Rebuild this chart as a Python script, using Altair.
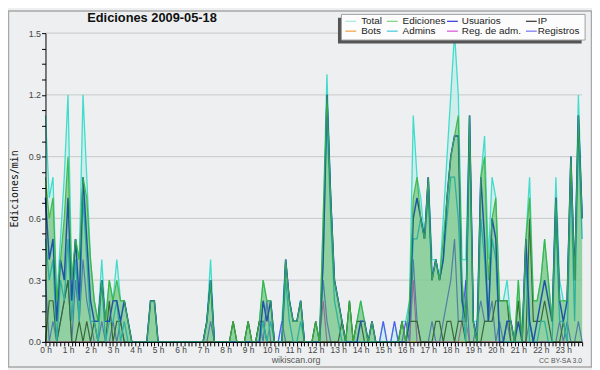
import altair as alt
import pandas as pd

# ---------------- data (edits per minute, 10-minute buckets, 0h..23h50) ----------------
hour_labels = [f"{h} h" for h in range(24)]

total = [
    1.1, 0.7, 0.8, 0.2, 0.5, 0.8, 1.2, 0.3, 0.5, 0.4, 1.2, 0.8,
    0.4, 0.2, 0.1, 0.4, 0.1, 0.3, 0.2, 0.4, 0.2, 0.2, 0.1, 0.0,
    0.0, 0.0, 0.0, 0.0, 0.2, 0.2, 0.0, 0.0, 0.0, 0.0, 0.0, 0.0,
    0.0, 0.0, 0.0, 0.0, 0.0, 0.0, 0.0, 0.1, 0.4, 0.0, 0.0, 0.0,
    0.0, 0.0, 0.1, 0.0, 0.0, 0.0, 0.1, 0.0, 0.0, 0.1, 0.3, 0.2,
    0.2, 0.0, 0.0, 0.1, 0.4, 0.2, 0.1, 0.1, 0.2, 0.0, 0.0, 0.0,
    0.1, 0.0, 0.6, 1.3, 0.7, 0.3, 0.2, 0.1, 0.0, 0.2, 0.0, 0.1,
    0.2, 0.1, 0.0, 0.1, 0.0, 0.0, 0.1, 0.0, 0.0, 0.1, 0.0, 0.1,
    0.1, 0.2, 1.1, 0.8, 0.7, 0.5, 0.8, 0.4, 0.4, 0.3, 0.6, 0.9,
    1.2, 1.5, 1.2, 0.4, 0.4, 1.1, 0.1, 0.1, 0.8, 1.0, 0.4, 0.8,
    0.7, 0.2, 0.2, 0.3, 0.1, 0.0, 0.3, 0.0, 0.5, 0.8, 0.2, 0.2,
    0.3, 0.5, 0.3, 0.1, 0.8, 0.3, 0.2, 0.2, 0.9, 0.3, 1.2, 0.6,
]
edits = [
    0.8, 0.6, 0.7, 0.2, 0.4, 0.6, 0.9, 0.3, 0.5, 0.4, 0.8, 0.7,
    0.4, 0.2, 0.1, 0.3, 0.1, 0.3, 0.2, 0.3, 0.2, 0.2, 0.1, 0.0,
    0.0, 0.0, 0.0, 0.0, 0.2, 0.2, 0.0, 0.0, 0.0, 0.0, 0.0, 0.0,
    0.0, 0.0, 0.0, 0.0, 0.0, 0.0, 0.0, 0.1, 0.3, 0.0, 0.0, 0.0,
    0.0, 0.0, 0.1, 0.0, 0.0, 0.0, 0.1, 0.0, 0.0, 0.1, 0.3, 0.2,
    0.2, 0.0, 0.0, 0.0, 0.4, 0.2, 0.1, 0.1, 0.2, 0.0, 0.0, 0.0,
    0.1, 0.0, 0.6, 1.2, 0.7, 0.3, 0.2, 0.1, 0.0, 0.2, 0.0, 0.1,
    0.2, 0.1, 0.0, 0.1, 0.0, 0.0, 0.0, 0.0, 0.0, 0.0, 0.0, 0.1,
    0.0, 0.2, 0.7, 0.8, 0.6, 0.5, 0.8, 0.3, 0.4, 0.3, 0.5, 0.7,
    0.9, 1.0, 1.1, 0.3, 0.1, 1.1, 0.1, 0.0, 0.8, 0.9, 0.3, 0.6,
    0.7, 0.2, 0.2, 0.2, 0.1, 0.0, 0.3, 0.0, 0.5, 0.7, 0.2, 0.2,
    0.3, 0.5, 0.3, 0.1, 0.7, 0.2, 0.2, 0.2, 0.9, 0.3, 1.1, 0.6,
]
users = [
    0.7, 0.4, 0.5, 0.1, 0.4, 0.3, 0.7, 0.2, 0.5, 0.2, 0.8, 0.5,
    0.2, 0.1, 0.1, 0.3, 0.1, 0.1, 0.2, 0.2, 0.1, 0.2, 0.1, 0.0,
    0.0, 0.0, 0.0, 0.0, 0.2, 0.2, 0.0, 0.0, 0.0, 0.0, 0.0, 0.0,
    0.0, 0.0, 0.0, 0.0, 0.0, 0.0, 0.0, 0.1, 0.3, 0.0, 0.0, 0.0,
    0.0, 0.0, 0.0, 0.0, 0.0, 0.0, 0.0, 0.0, 0.0, 0.0, 0.2, 0.1,
    0.2, 0.0, 0.0, 0.0, 0.4, 0.2, 0.1, 0.1, 0.2, 0.0, 0.0, 0.0,
    0.0, 0.0, 0.4, 1.2, 0.7, 0.3, 0.2, 0.1, 0.0, 0.0, 0.0, 0.0,
    0.1, 0.1, 0.0, 0.1, 0.0, 0.0, 0.0, 0.0, 0.0, 0.0, 0.0, 0.0,
    0.0, 0.1, 0.6, 0.7, 0.6, 0.5, 0.8, 0.3, 0.4, 0.3, 0.4, 0.7,
    0.9, 1.0, 1.0, 0.2, 0.1, 1.1, 0.1, 0.0, 0.8, 0.5, 0.1, 0.6,
    0.5, 0.0, 0.0, 0.1, 0.1, 0.0, 0.1, 0.0, 0.5, 0.1, 0.0, 0.1,
    0.2, 0.3, 0.2, 0.1, 0.7, 0.2, 0.1, 0.2, 0.9, 0.3, 1.1, 0.6,
]
ip = [
    0.0, 0.2, 0.2, 0.0, 0.1, 0.2, 0.3, 0.0, 0.0, 0.1, 0.0, 0.1,
    0.0, 0.1, 0.0, 0.0, 0.0, 0.2, 0.0, 0.1, 0.1, 0.0, 0.0, 0.0,
    0.0, 0.0, 0.0, 0.0, 0.0, 0.0, 0.0, 0.0, 0.0, 0.0, 0.0, 0.0,
    0.0, 0.0, 0.0, 0.0, 0.0, 0.0, 0.0, 0.0, 0.0, 0.0, 0.0, 0.0,
    0.0, 0.0, 0.1, 0.0, 0.0, 0.0, 0.1, 0.0, 0.0, 0.1, 0.1, 0.0,
    0.0, 0.0, 0.0, 0.0, 0.0, 0.0, 0.0, 0.0, 0.0, 0.0, 0.0, 0.0,
    0.1, 0.0, 0.0, 0.0, 0.0, 0.0, 0.0, 0.1, 0.0, 0.2, 0.0, 0.1,
    0.1, 0.0, 0.0, 0.0, 0.0, 0.0, 0.0, 0.0, 0.0, 0.0, 0.0, 0.1,
    0.0, 0.1, 0.1, 0.1, 0.0, 0.0, 0.0, 0.0, 0.1, 0.1, 0.0, 0.1,
    0.1, 0.0, 0.1, 0.1, 0.0, 0.0, 0.0, 0.0, 0.0, 0.1, 0.1, 0.1,
    0.2, 0.2, 0.2, 0.2, 0.0, 0.0, 0.2, 0.0, 0.0, 0.6, 0.1, 0.1,
    0.1, 0.2, 0.1, 0.0, 0.0, 0.0, 0.1, 0.0, 0.0, 0.0, 0.0, 0.0,
]
bots = [0.0] * 144
admins = [
    0.5, 0.3, 0.4, 0.0, 0.3, 0.2, 0.5, 0.1, 0.4, 0.1, 0.7, 0.4,
    0.1, 0.1, 0.0, 0.3, 0.0, 0.1, 0.1, 0.2, 0.0, 0.1, 0.0, 0.0,
    0.0, 0.0, 0.0, 0.0, 0.0, 0.0, 0.0, 0.0, 0.0, 0.0, 0.0, 0.0,
    0.0, 0.0, 0.0, 0.0, 0.0, 0.0, 0.0, 0.1, 0.3, 0.0, 0.0, 0.0,
    0.0, 0.0, 0.0, 0.0, 0.0, 0.0, 0.0, 0.0, 0.0, 0.0, 0.1, 0.0,
    0.1, 0.0, 0.0, 0.0, 0.3, 0.1, 0.0, 0.0, 0.1, 0.0, 0.0, 0.0,
    0.0, 0.0, 0.4, 1.1, 0.6, 0.2, 0.1, 0.0, 0.0, 0.0, 0.0, 0.0,
    0.0, 0.0, 0.0, 0.0, 0.0, 0.0, 0.0, 0.0, 0.0, 0.0, 0.0, 0.0,
    0.0, 0.1, 0.5, 0.5, 0.6, 0.5, 0.7, 0.3, 0.4, 0.3, 0.4, 0.6,
    0.8, 0.8, 0.6, 0.2, 0.0, 1.0, 0.1, 0.0, 0.6, 0.4, 0.1, 0.5,
    0.4, 0.0, 0.0, 0.0, 0.0, 0.0, 0.0, 0.0, 0.4, 0.0, 0.0, 0.0,
    0.1, 0.1, 0.0, 0.0, 0.6, 0.1, 0.1, 0.0, 0.8, 0.1, 1.0, 0.5,
]
adm_logs = [
    0.0, 0.0, 0.0, 0.0, 0.0, 0.0, 0.0, 0.0, 0.0, 0.0, 0.0, 0.0,
    0.0, 0.0, 0.0, 0.0, 0.0, 0.0, 0.0, 0.0, 0.0, 0.0, 0.0, 0.0,
    0.0, 0.0, 0.0, 0.0, 0.0, 0.0, 0.0, 0.0, 0.0, 0.0, 0.0, 0.0,
    0.0, 0.0, 0.0, 0.0, 0.0, 0.0, 0.0, 0.0, 0.0, 0.0, 0.0, 0.0,
    0.0, 0.0, 0.0, 0.0, 0.0, 0.0, 0.0, 0.0, 0.0, 0.0, 0.0, 0.0,
    0.0, 0.0, 0.0, 0.0, 0.0, 0.0, 0.0, 0.0, 0.0, 0.0, 0.0, 0.0,
    0.0, 0.0, 0.2, 0.0, 0.0, 0.0, 0.0, 0.0, 0.0, 0.0, 0.0, 0.0,
    0.0, 0.0, 0.0, 0.0, 0.0, 0.0, 0.0, 0.0, 0.0, 0.0, 0.0, 0.0,
    0.0, 0.0, 0.3, 0.0, 0.0, 0.0, 0.0, 0.0, 0.0, 0.0, 0.0, 0.0,
    0.0, 0.0, 0.0, 0.1, 0.1, 0.0, 0.0, 0.0, 0.0, 0.0, 0.0, 0.0,
    0.0, 0.0, 0.0, 0.0, 0.0, 0.0, 0.0, 0.0, 0.0, 0.0, 0.0, 0.0,
    0.0, 0.0, 0.0, 0.0, 0.0, 0.0, 0.0, 0.0, 0.0, 0.0, 0.0, 0.0,
]
logs = [
    0.3, 0.0, 0.1, 0.0, 0.1, 0.2, 0.3, 0.0, 0.3, 0.1, 0.4, 0.2,
    0.1, 0.0, 0.0, 0.1, 0.0, 0.0, 0.1, 0.0, 0.1, 0.0, 0.0, 0.0,
    0.0, 0.0, 0.0, 0.0, 0.0, 0.0, 0.0, 0.0, 0.0, 0.0, 0.0, 0.0,
    0.0, 0.0, 0.0, 0.0, 0.0, 0.0, 0.0, 0.0, 0.1, 0.0, 0.0, 0.0,
    0.0, 0.0, 0.0, 0.0, 0.0, 0.0, 0.0, 0.0, 0.0, 0.1, 0.0, 0.2,
    0.0, 0.0, 0.0, 0.1, 0.0, 0.0, 0.0, 0.0, 0.0, 0.0, 0.0, 0.0,
    0.0, 0.0, 0.3, 0.1, 0.0, 0.0, 0.0, 0.0, 0.0, 0.0, 0.0, 0.0,
    0.0, 0.0, 0.0, 0.0, 0.0, 0.0, 0.1, 0.0, 0.0, 0.1, 0.0, 0.0,
    0.1, 0.0, 0.4, 0.1, 0.0, 0.0, 0.0, 0.1, 0.0, 0.0, 0.1, 0.2,
    0.3, 0.5, 0.1, 0.1, 0.3, 0.0, 0.0, 0.1, 0.2, 0.1, 0.1, 0.2,
    0.0, 0.1, 0.0, 0.1, 0.0, 0.0, 0.0, 0.0, 0.0, 0.1, 0.0, 0.0,
    0.0, 0.0, 0.0, 0.0, 0.0, 0.1, 0.0, 0.1, 0.0, 0.0, 0.1, 0.0,
]

legend_names = ["Total", "Ediciones", "Usuarios", "IP",
                "Bots", "Admins", "Reg. de adm.", "Registros"]
legend_colors = ["#a8e6de", "#7ccf7c", "#3030e0", "#303030",
                 "#f0a040", "#40c8dc", "#d850d8", "#7070f0"]

# ---------------- build tables ----------------
n = len(total)
df = pd.DataFrame({
    "i": list(range(n)),
    "Total": total, "Ediciones": edits, "Usuarios": users, "IP": ip,
    "Bots": bots, "Admins": admins, "Reg. de adm.": adm_logs, "Registros": logs,
})
long = df.melt(id_vars="i", var_name="serie", value_name="v")

W, H = 544, 313
FONT = "Liberation Sans"
x_scale = alt.Scale(domain=[0, n - 1], nice=False, zero=False)
y_scale = alt.Scale(domain=[0, 1.5], nice=False, zero=True)

x_axis = alt.Axis(
    values=list(range(n)),
    labelExpr="datum.value % 6 == 0 ? (datum.value / 6) + ' h' : ''",
    labelOverlap=False, labelFlush=False, labelFont=FONT, labelFontSize=8.5,
    labelColor="#444444", labelPadding=0, tickSize=4, tickColor="#000000",
    domainColor="#000000", grid=False, title=None, zindex=1,
)
y_axis = alt.Axis(
    values=[round(0.075 * k, 3) for k in range(21)],
    labelExpr="abs(datum.value * 10 / 3 - round(datum.value * 10 / 3)) < 0.01 ? format(datum.value, '.1f') : ''",
    labelOverlap=False, labelFont=FONT, labelFontSize=9, labelColor="#444444",
    labelPadding=1, tickSize=4, tickColor="#000000", domainColor="#000000",
    grid=False, title=None, zindex=1,
)

base = alt.Chart(long)
X = alt.X("i:Q", scale=x_scale, axis=x_axis)
Y = alt.Y("v:Q", scale=y_scale, axis=y_axis)


def serie(name):
    return base.transform_filter(alt.datum.serie == name)


grid = alt.Chart(pd.DataFrame({"g": [0.3, 0.6, 0.9, 1.2, 1.5]})).mark_rule(
    color="#c8c8c8", strokeWidth=1
).encode(y=alt.Y("g:Q", scale=y_scale, axis=y_axis))

total_area = serie("Total").mark_area(color="#c4eeea", opacity=0.75).encode(x=X, y=Y)
total_line = serie("Total").mark_line(color="#40dccc", strokeWidth=1.3).encode(x=X, y=Y)

lines = []
for name, col, w in [("Bots", "#f0a040", 1.2), ("Registros", "#5a5af2", 1.2),
                     ("Reg. de adm.", "#d040d8", 1.2), ("IP", "#303030", 1.2),
                     ("Admins", "#18b8e4", 1.3), ("Usuarios", "#0010f4", 1.5)]:
    lines.append(serie(name).mark_line(color=col, strokeWidth=w).encode(x=X, y=Y))

edit_area = serie("Ediciones").mark_area(color="#44aa44", opacity=0.45).encode(x=X, y=Y)
edit_line = serie("Ediciones").mark_line(color="#3cb43c", strokeWidth=1.2, opacity=0.9).encode(x=X, y=Y)

one = pd.DataFrame({"t": ["x"]})

frame = alt.Chart(one).mark_rect(fill=None, stroke="#a8a8a8", strokeWidth=1.5).encode(
    x=alt.value(-37.5), x2=alt.value(553.5), y=alt.value(-22.5), y2=alt.value(338.5)
)

title = alt.Chart(pd.DataFrame({"t": ["Ediciones  2009-05-18"]})).mark_text(
    font=FONT, fontSize=13, fontWeight="bold", color="#111111", align="center", baseline="middle"
).encode(x=alt.value(108), y=alt.value(-15), text="t:N")

ytitle = alt.Chart(pd.DataFrame({"t": ["Ediciones/min"]})).mark_text(
    font="DejaVu Sans Mono", fontSize=10, color="#111111", angle=270, align="center", baseline="middle"
).encode(x=alt.value(-31), y=alt.value(158), text="t:N")

footer = alt.Chart(pd.DataFrame({"t": ["wikiscan.org"]})).mark_text(
    font=FONT, fontSize=9, color="#555555", align="center", baseline="middle"
).encode(x=alt.value(254), y=alt.value(331.5), text="t:N")

license_txt = alt.Chart(pd.DataFrame({"t": ["CC BY-SA 3.0"]})).mark_text(
    font=FONT, fontSize=7, color="#555555", align="right", baseline="middle"
).encode(x=alt.value(544), y=alt.value(332.5), text="t:N")

# legend (manual, 4 columns x 2 rows)
col_sym = [304, 346, 407, 487]
col_txt = [320, 362, 422, 499]
row_y = [-12, -2]
leg = pd.DataFrame({
    "name": legend_names,
    "c": legend_colors,
    "sx": [col_sym[k % 4] for k in range(8)],
    "sx2": [col_sym[k % 4] + 11 for k in range(8)],
    "tx": [col_txt[k % 4] for k in range(8)],
    "sy": [row_y[k // 4] for k in range(8)],
})
shadow = alt.Chart(one).mark_rect(fill="#555555").encode(
    x=alt.value(296.5), x2=alt.value(543.5), y=alt.value(-15.5), y2=alt.value(10.5)
)
box = alt.Chart(one).mark_rect(fill="#fcfcfc", stroke="#a0a0a0", strokeWidth=1).encode(
    x=alt.value(300), x2=alt.value(547), y=alt.value(-19), y2=alt.value(7)
)
leg_sym = alt.Chart(leg).mark_rule(strokeWidth=1.2).encode(
    x=alt.X("sx:Q", scale=None), x2="sx2:Q", y=alt.Y("sy:Q", scale=None),
    color=alt.Color("c:N", scale=None),
)
leg_txt = alt.Chart(leg).mark_text(
    font=FONT, fontSize=10, color="#222222", align="left", baseline="middle"
).encode(x=alt.X("tx:Q", scale=None), y=alt.Y("sy:Q", scale=None), text="name:N")

data_layer = alt.layer(
    grid, total_area, total_line, *lines, edit_area, edit_line,
)
deco_layer = alt.layer(
    frame, title, ytitle, footer, license_txt, shadow, box, leg_sym, leg_txt,
)

chart = alt.layer(data_layer, deco_layer).resolve_scale(x="independent", y="independent").properties(
    width=W, height=H,
    autosize=alt.AutoSizeParams(type="none"),
    padding={"left": 38, "top": 23, "right": 10, "bottom": 26},
).configure(background="#edeff0").configure_view(stroke=None)

chart.save("out.html", embed_options={"renderer": "svg", "actions": False})
